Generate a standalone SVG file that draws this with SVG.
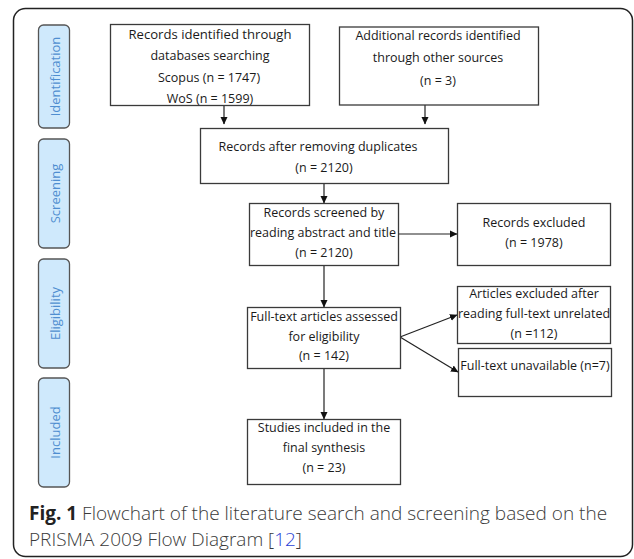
<svg xmlns="http://www.w3.org/2000/svg" width="634" height="559" viewBox="0 0 634 559">
<style>
.frame{fill:#fff;stroke:#222;stroke-width:1.5}
.phase{fill:#cfe9fc;stroke:#555;stroke-width:1.3}
.phase-t{font-family:"Open Sans","Noto Sans",sans-serif;font-size:13px;fill:#4f8ed0;text-anchor:middle;dominant-baseline:central}
.box{fill:#fff;stroke:#3a3a3a;stroke-width:1.3}
.t{font-family:"Open Sans","Noto Sans",sans-serif;font-size:12.5px;fill:#1a1a1a;text-anchor:middle;dominant-baseline:central}
.c{stroke:#222;stroke-width:1.2;fill:none;marker-end:url(#ah)}
.cap{font-family:"Open Sans","Noto Sans",sans-serif;font-size:19px;font-weight:300;fill:#3a3a3a}
</style>
<defs>
<marker id="ah" markerWidth="8" markerHeight="8" refX="7" refY="4" orient="auto" markerUnits="userSpaceOnUse">
<path d="M0,0.5 L7.5,4 L0,7.5 z" fill="#111"/>
</marker>
</defs>
<rect class="frame" x="13.5" y="8.5" width="619" height="548" rx="12"/>
<g id="phase-identification"><rect class="phase" x="38.5" y="25" width="31" height="103" rx="5"/><text class="phase-t" transform="translate(55 76.5) rotate(-90)">Identification</text></g>
<g id="phase-screening"><rect class="phase" x="38.5" y="139" width="31" height="109" rx="5"/><text class="phase-t" transform="translate(55 193.5) rotate(-90)">Screening</text></g>
<g id="phase-eligibility"><rect class="phase" x="38.5" y="259" width="31" height="109" rx="5"/><text class="phase-t" transform="translate(55 313.5) rotate(-90)">Eligibility</text></g>
<g id="phase-included"><rect class="phase" x="38.5" y="378" width="31" height="109" rx="5"/><text class="phase-t" transform="translate(55 432.5) rotate(-90)">Included</text></g>
<g id="connectors">
<line class="c" x1="224" y1="106" x2="224" y2="124"/>
<line class="c" x1="425" y1="105" x2="425" y2="124"/>
<line class="c" x1="324" y1="183" x2="324" y2="203"/>
<line class="c" x1="398" y1="234" x2="457" y2="234"/>
<line class="c" x1="324" y1="265" x2="324" y2="307"/>
<line class="c" x1="400" y1="337" x2="457" y2="315"/>
<line class="c" x1="400" y1="337" x2="458" y2="372"/>
<line class="c" x1="324" y1="368" x2="324" y2="419"/>
</g>
<g id="n1"><rect class="box" x="110.5" y="24.5" width="199" height="81"/>
<text class="t" x="210" y="34" textLength="163" lengthAdjust="spacingAndGlyphs">Records identified through</text>
<text class="t" x="210" y="55">databases searching</text>
<text class="t" x="209" y="77">Scopus (n = 1747)</text>
<text class="t" x="210" y="98">WoS (n = 1599)</text></g>
<g id="n2"><rect class="box" x="339.5" y="27" width="199" height="78"/>
<text class="t" x="438" y="35">Additional records identified</text>
<text class="t" x="438" y="57">through other sources</text>
<text class="t" x="438" y="80">(n = 3)</text></g>
<g id="n3"><rect class="box" x="200.5" y="128.5" width="248" height="55"/>
<text class="t" x="318" y="146">Records after removing duplicates</text>
<text class="t" x="324" y="167">(n = 2120)</text></g>
<g id="n4"><rect class="box" x="249.5" y="203.5" width="149" height="62"/>
<text class="t" x="324" y="212">Records screened by</text>
<text class="t" x="323" y="232">reading abstract and title</text>
<text class="t" x="324" y="252">(n = 2120)</text></g>
<g id="n5"><rect class="box" x="457.5" y="203.5" width="153" height="62"/>
<text class="t" x="534" y="222">Records excluded</text>
<text class="t" x="534" y="242">(n = 1978)</text></g>
<g id="n6"><rect class="box" x="247.5" y="307.5" width="153" height="61"/>
<text class="t" x="324" y="316">Full-text articles assessed</text>
<text class="t" x="324" y="336">for eligibility</text>
<text class="t" x="324" y="355">(n = 142)</text></g>
<g id="n7"><rect class="box" x="457.5" y="286.5" width="153" height="57"/>
<text class="t" x="534" y="293">Articles excluded after</text>
<text class="t" x="534" y="313">reading full-text unrelated</text>
<text class="t" x="534" y="333">(n =112)</text></g>
<g id="n8"><rect class="box" x="458.5" y="348.5" width="153" height="48"/>
<text class="t" x="535" y="365">Full-text unavailable (n=7)</text></g>
<g id="n9"><rect class="box" x="247.5" y="419.5" width="153" height="65"/>
<text class="t" x="324" y="427">Studies included in the</text>
<text class="t" x="324" y="447">final synthesis</text>
<text class="t" x="324" y="467">(n = 23)</text></g>
<text class="cap" x="29" y="520"><tspan font-weight="bold" fill="#222">Fig. 1</tspan> Flowchart of the literature search and screening based on the</text>
<text class="cap" x="29" y="546">PRISMA 2009 Flow Diagram [<tspan fill="#2b3fd6">12</tspan>]</text>
</svg>
